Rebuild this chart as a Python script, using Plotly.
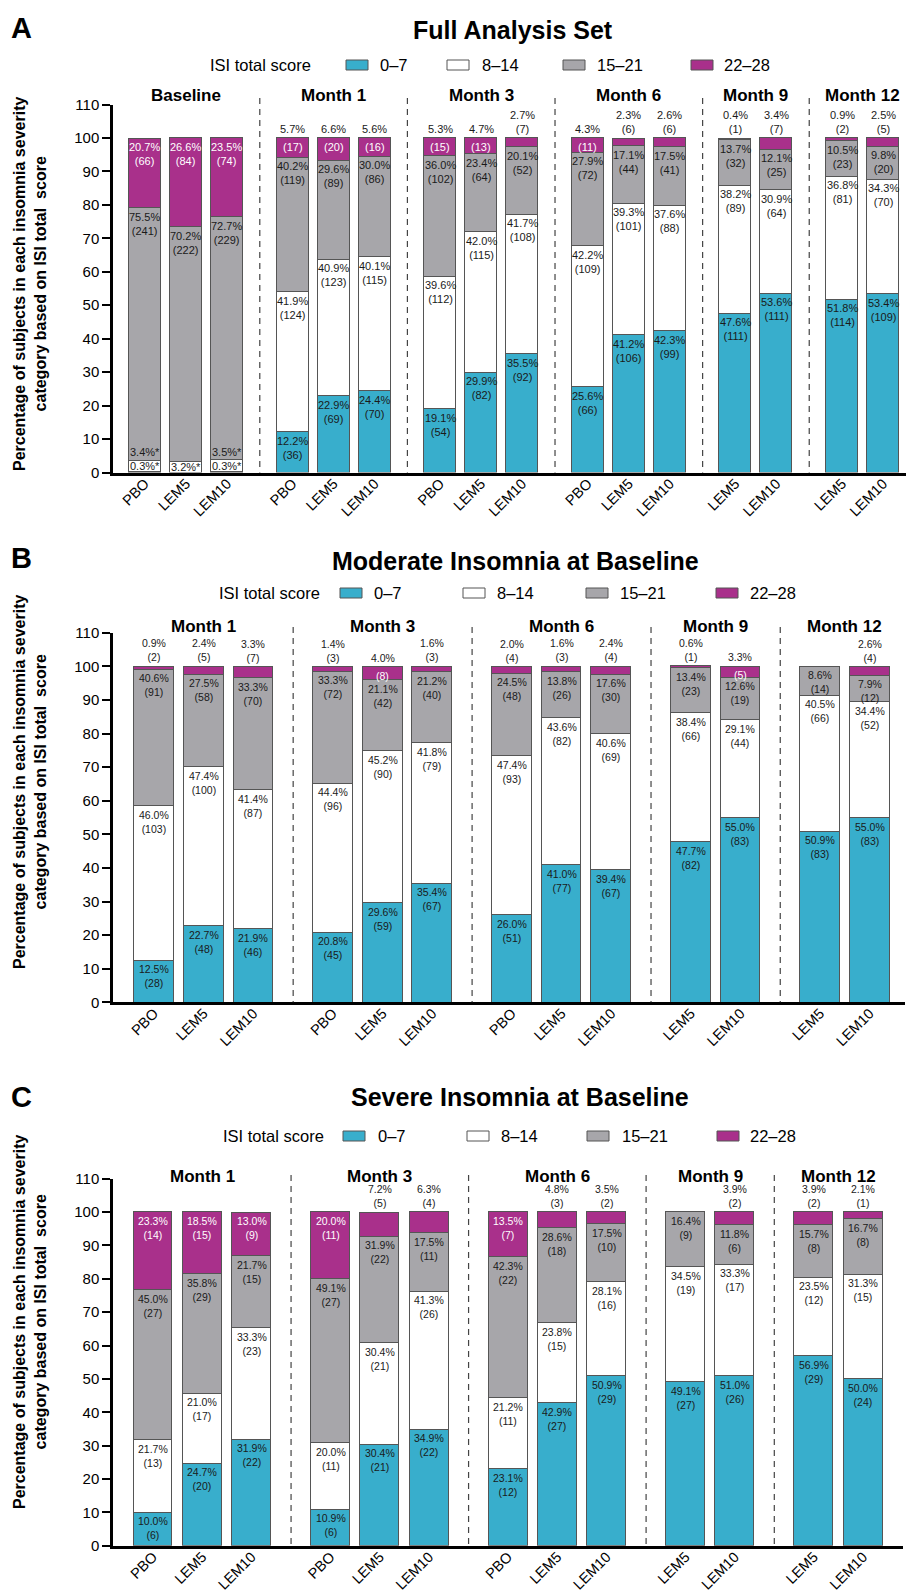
import plotly.graph_objects as go

W, H = 907, 1595

# ---------------- data ----------------
CATS = ["0–7", "8–14", "15–21", "22–28"]
ARMS3 = ["PBO", "LEM5", "LEM10"]
ARMS2 = ["LEM5", "LEM10"]

# Panel A: Full Analysis Set
A_groups = ["Baseline", "Month 1", "Month 3", "Month 6", "Month 9", "Month 12"]
A_arms = [ARMS3, ARMS3, ARMS3, ARMS3, ARMS2, ARMS2]
A_p07 = [0.3, 0.0, 0.3, 12.2, 22.9, 24.4, 19.1, 29.9, 35.5, 25.6, 41.2, 42.3, 47.6, 53.6, 51.8, 53.4]
A_n07 = [None, None, None, 36, 69, 70, 54, 82, 92, 66, 106, 99, 111, 111, 114, 109]
A_p814 = [3.4, 3.2, 3.5, 41.9, 40.9, 40.1, 39.6, 42.0, 41.7, 42.2, 39.3, 37.6, 38.2, 30.9, 36.8, 34.3]
A_n814 = [None, None, None, 124, 123, 115, 112, 115, 108, 109, 101, 88, 89, 64, 81, 70]
A_p1521 = [75.5, 70.2, 72.7, 40.2, 29.6, 30.0, 36.0, 23.4, 20.1, 27.9, 17.1, 17.5, 13.7, 12.1, 10.5, 9.8]
A_n1521 = [241, 222, 229, 119, 89, 86, 102, 64, 52, 72, 44, 41, 32, 25, 23, 20]
A_p2228 = [20.7, 26.6, 23.5, 5.7, 6.6, 5.6, 5.3, 4.7, 2.7, 4.3, 2.3, 2.6, 0.4, 3.4, 0.9, 2.5]
A_n2228 = [66, 84, 74, 17, 20, 16, 15, 13, 7, 11, 6, 6, 1, 7, 2, 5]

# Panels B & C share the visit/arm layout
BC_groups = ["Month 1", "Month 3", "Month 6", "Month 9", "Month 12"]
BC_arms = [ARMS3, ARMS3, ARMS3, ARMS2, ARMS2]

# Panel B: Moderate insomnia at baseline
B_p07 = [12.5, 22.7, 21.9, 20.8, 29.6, 35.4, 26.0, 41.0, 39.4, 47.7, 55.0, 50.9, 55.0]
B_n07 = [28, 48, 46, 45, 59, 67, 51, 77, 67, 82, 83, 83, 83]
B_p814 = [46.0, 47.4, 41.4, 44.4, 45.2, 41.8, 47.4, 43.6, 40.6, 38.4, 29.1, 40.5, 34.4]
B_n814 = [103, 100, 87, 96, 90, 79, 93, 82, 69, 66, 44, 66, 52]
B_p1521 = [40.6, 27.5, 33.3, 33.3, 21.1, 21.2, 24.5, 13.8, 17.6, 13.4, 12.6, 8.6, 7.9]
B_n1521 = [91, 58, 70, 72, 42, 40, 48, 26, 30, 23, 19, 14, 12]
B_p2228 = [0.9, 2.4, 3.3, 1.4, 4.0, 1.6, 2.0, 1.6, 2.4, 0.6, 3.3, 0.0, 2.6]
B_n2228 = [2, 5, 7, 3, 8, 3, 4, 3, 4, 1, 5, 0, 4]

# Panel C: Severe insomnia at baseline
C_p07 = [10.0, 24.7, 31.9, 10.9, 30.4, 34.9, 23.1, 42.9, 50.9, 49.1, 51.0, 56.9, 50.0]
C_n07 = [6, 20, 22, 6, 21, 22, 12, 27, 29, 27, 26, 29, 24]
C_p814 = [21.7, 21.0, 33.3, 20.0, 30.4, 41.3, 21.2, 23.8, 28.1, 34.5, 33.3, 23.5, 31.3]
C_n814 = [13, 17, 23, 11, 21, 26, 11, 15, 16, 19, 17, 12, 15]
C_p1521 = [45.0, 35.8, 21.7, 49.1, 31.9, 17.5, 42.3, 28.6, 17.5, 16.4, 11.8, 15.7, 16.7]
C_n1521 = [27, 29, 15, 27, 22, 11, 22, 18, 10, 9, 6, 8, 8]
C_p2228 = [23.3, 18.5, 13.0, 20.0, 7.2, 6.3, 13.5, 4.8, 3.5, 0.0, 3.9, 3.9, 2.1]
C_n2228 = [14, 15, 9, 11, 5, 4, 7, 3, 2, 0, 2, 2, 1]

# where the 22-28 label goes (style)
A_mag = ['in', 'in', 'in', 'split', 'split', 'split', 'split', 'split', 'above',
         'split', 'above', 'above', 'above', 'above', 'above', 'above']
B_mag = ['above', 'above', 'above', 'above', 'split', 'above', 'above', 'above', 'above',
         'above', 'split', 'none', 'above']
C_mag = ['in', 'in', 'in', 'in', 'above', 'above', 'in', 'above', 'above',
         'none', 'above', 'above', 'above']

# ---------------- style ----------------
FONT = "Liberation Sans, Arial, sans-serif"
COLORS = ["#38AECC", "#FFFFFF", "#A7A6AA", "#A9308B"]
EDGE = "#555555"
TXT = "#1a1a1a"


def fx(px):
    return px / W


def fy(py):
    return 1 - py / H


def xpos(arms, gap=1.6):
    xs, centers, seps = [], [], []
    x = 0.0
    for gi, g in enumerate(arms):
        start = x
        for _ in g:
            xs.append(x)
            x += 1
        centers.append((start + x - 1) / 2)
        if gi < len(arms) - 1:
            seps.append(x - 1 + gap / 2)
            x += gap - 1
    return xs, centers, seps


panels = [
    dict(key="", letter="A", title="Full Analysis Set", title_x=513, title_y=30, letter_y=28,
         groups=A_groups, arms=A_arms,
         p=[A_p07, A_p814, A_p1521, A_p2228], n=[A_n07, A_n814, A_n1521, A_n2228], mag=A_mag,
         xpx=(113, 906), xr=(-0.78, 18.56), ypx=(104.5, 472.5), bw=0.78,
         head_y=96, sep_top=98, leg_y=65, leg_title_x=260.5,
         sw_x=[346, 447, 563, 691], tx_x=[380, 482, 597, 724], ytitle_y=284,
         lab_size=11, baseline=True),
    dict(key="2", letter="B", title="Moderate Insomnia at Baseline", title_x=515, title_y=561, letter_y=558,
         groups=BC_groups, arms=BC_arms,
         p=[B_p07, B_p814, B_p1521, B_p2228], n=[B_n07, B_n814, B_n1521, B_n2228], mag=B_mag,
         xpx=(113, 905), xr=(-0.825, 15.11), ypx=(632.7, 1002.3), bw=0.8,
         head_y=626, sep_top=627, leg_y=593, leg_title_x=269,
         sw_x=[340, 463, 586, 716], tx_x=[374, 497, 620, 750], ytitle_y=782,
         lab_size=10.5, baseline=False),
    dict(key="3", letter="C", title="Severe Insomnia at Baseline", title_x=520, title_y=1097, letter_y=1097,
         groups=BC_groups, arms=BC_arms,
         p=[C_p07, C_p814, C_p1521, C_p2228], n=[C_n07, C_n814, C_n1521, C_n2228], mag=C_mag,
         xpx=(113, 903), xr=(-0.811, 15.21), ypx=(1178.7, 1545.7), bw=0.79,
         head_y=1176, sep_top=1175, leg_y=1136, leg_title_x=273.5,
         sw_x=[343, 467, 587, 717], tx_x=[378, 501, 622, 750], ytitle_y=1322,
         lab_size=10.5, baseline=False),
]

fig = go.Figure()
annotations = []
shapes = []
layout_axes = {}

for P in panels:
    k = P["key"]
    xa, ya = "x" + k, "y" + k
    xs, centers, seps = xpos(P["arms"])
    ticktext = [a for g in P["arms"] for a in g]

    # bars
    for ci in range(4):
        yvals = [v if v > 0 else None for v in P["p"][ci]]
        fig.add_trace(go.Bar(
            x=xs, y=yvals, name=CATS[ci], xaxis=xa, yaxis=ya, width=P["bw"],
            marker=dict(color=COLORS[ci], line=dict(color=EDGE, width=1)),
            showlegend=False, hoverinfo="skip"))

    # axes
    x0p, x1p = P["xpx"]
    ytop, ybot = P["ypx"]
    layout_axes["xaxis" + k] = dict(
        domain=[fx(x0p), fx(x1p)], range=list(P["xr"]), anchor=ya,
        tickmode="array", tickvals=xs, ticktext=ticktext, tickangle=-45,
        tickfont=dict(family=FONT, size=14.5, color="black"),
        ticks="", ticklabelstandoff=-6, showline=True, linecolor="black", linewidth=3,
        showgrid=False, zeroline=False, fixedrange=True, automargin=False)
    layout_axes["yaxis" + k] = dict(
        domain=[fy(ybot), fy(ytop)], range=[0, 110], anchor=xa,
        tickmode="array", tickvals=list(range(0, 111, 10)),
        tickfont=dict(family=FONT, size=15, color="black"),
        ticks="outside", ticklen=8, tickwidth=2, tickcolor="black",
        showline=True, linecolor="black", linewidth=2.5,
        showgrid=False, zeroline=False, fixedrange=True, automargin=False)

    def data_to_px(xv, P=P, x0p=x0p, x1p=x1p):
        return x0p + (xv - P["xr"][0]) / (P["xr"][1] - P["xr"][0]) * (x1p - x0p)

    # dashed separators
    for s in seps:
        sx = fx(data_to_px(s))
        shapes.append(dict(type="line", xref="paper", yref="paper", x0=sx, x1=sx,
                           y0=fy(P["sep_top"]), y1=fy(ybot),
                           line=dict(color="#444444", width=1.2, dash="6px,5px")))

    # group headers
    for g, c in zip(P["groups"], centers):
        annotations.append(dict(x=c, xref=xa, y=fy(P["head_y"]), yref="paper",
                                text="<b>%s</b>" % g, showarrow=False, xanchor="center", yanchor="middle",
                                font=dict(family=FONT, size=17, color="black")))

    # title and panel letter
    annotations.append(dict(x=fx(P["title_x"]), y=fy(P["title_y"]), xref="paper", yref="paper",
                            text="<b>%s</b>" % P["title"], showarrow=False, xanchor="center", yanchor="middle",
                            font=dict(family=FONT, size=25, color="black")))
    annotations.append(dict(x=fx(9), y=fy(P["letter_y"]), xref="paper", yref="paper",
                            text="<b>%s</b>" % P["letter"], showarrow=False, xanchor="left", yanchor="middle",
                            font=dict(family=FONT, size=29, color="black")))

    # y-axis title
    annotations.append(dict(x=fx(30), y=fy(P["ytitle_y"]), xref="paper", yref="paper",
                            text="<b>Percentage of subjects in each insomnia severity<br>category based on ISI total  score</b>",
                            textangle=-90, showarrow=False, xanchor="center", yanchor="middle",
                            font=dict(family=FONT, size=16, color="black")))

    # legend (manual)
    ly = P["leg_y"]
    annotations.append(dict(x=fx(P["leg_title_x"]), y=fy(ly), xref="paper", yref="paper",
                            text="ISI total score", showarrow=False, xanchor="center", yanchor="middle",
                            font=dict(family=FONT, size=16.5, color="black")))
    for ci in range(4):
        sx = P["sw_x"][ci]
        shapes.append(dict(type="rect", xref="paper", yref="paper",
                           x0=fx(sx), x1=fx(sx + 22), y0=fy(ly + 5), y1=fy(ly - 5),
                           fillcolor=COLORS[ci], line=dict(color=EDGE, width=1)))
        annotations.append(dict(x=fx(P["tx_x"][ci] - 2), y=fy(ly), xref="paper", yref="paper",
                                text=CATS[ci], showarrow=False, xanchor="left", yanchor="middle",
                                font=dict(family=FONT, size=16.5, color="black")))

    # segment labels
    lf = dict(family=FONT, size=P["lab_size"], color=TXT)
    lfw = dict(family=FONT, size=P["lab_size"], color="white")
    for i, x in enumerate(xs):
        cum = 0.0
        for ci in range(4):
            v = P["p"][ci][i]
            cnt = P["n"][ci][i]
            top = cum + v
            if v > 0 and cnt is not None:
                txt = "%.1f%%<br>(%d)" % (v, cnt)
                if ci < 3:
                    annotations.append(dict(x=x, y=top, xref=xa, yref=ya, text=txt, showarrow=False,
                                            xanchor="center", yanchor="top", yshift=-1, font=lf))
                else:
                    mode = P["mag"][i]
                    if mode == "in":
                        annotations.append(dict(x=x, y=top, xref=xa, yref=ya, text=txt, showarrow=False,
                                                xanchor="center", yanchor="top", yshift=-1, font=lfw))
                    elif mode == "above":
                        annotations.append(dict(x=x, y=top, xref=xa, yref=ya, text=txt, showarrow=False,
                                                xanchor="center", yanchor="bottom", yshift=1, font=lf))
                    elif mode == "split":
                        annotations.append(dict(x=x, y=top, xref=xa, yref=ya, text="%.1f%%" % v,
                                                showarrow=False, xanchor="center", yanchor="bottom",
                                                yshift=1, font=lf))
                        annotations.append(dict(x=x, y=top, xref=xa, yref=ya, text="(%d)" % cnt,
                                                showarrow=False, xanchor="center", yanchor="top",
                                                yshift=-1, font=lfw))
            cum = top

        # baseline footnote labels (percentages only, marked *)
        if P["baseline"] and P["n"][0][i] is None:
            p0, p1 = P["p"][0][i], P["p"][1][i]
            low = p0 if p0 > 0 else p1
            annotations.append(dict(x=x, y=(p0 + p1) / 2, xref=xa, yref=ya, text="%.1f%%*" % low,
                                    showarrow=False, xanchor="center", yanchor="middle", font=lf))
            if p0 > 0:
                annotations.append(dict(x=x, y=p0 + p1, xref=xa, yref=ya, text="%.1f%%*" % p1,
                                        showarrow=False, xanchor="center", yanchor="bottom", yshift=0, font=lf))

fig.update_layout(
    width=W, height=H, margin=dict(l=0, r=0, t=0, b=0),
    paper_bgcolor="white", plot_bgcolor="white",
    barmode="stack", bargap=0, showlegend=False,
    font=dict(family=FONT, color="black"),
    annotations=annotations, shapes=shapes,
    **layout_axes)

fig.write_html("out.html", config={"displayModeBar": False},
               post_script="document.body.style.margin='0px';")
